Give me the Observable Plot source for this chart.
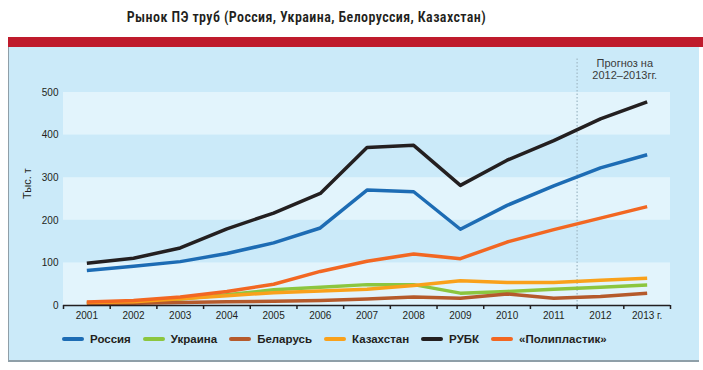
<!DOCTYPE html>
<html><head><meta charset="utf-8">
<script src="https://cdn.jsdelivr.net/npm/d3@7"></script>
<script src="https://cdn.jsdelivr.net/npm/@observablehq/plot@0.6"></script>
<style>
body{margin:0;background:#fff;}
#wrap{position:relative;width:703px;height:370px;overflow:hidden;font-family:"Liberation Sans",Arial,sans-serif;color:#231f20;}
#title{position:absolute;left:0;width:613px;top:9px;text-align:center;font-weight:600;font-size:14px;letter-spacing:0.4px;font-family:"Liberation Sans Narrow","Roboto Condensed","Liberation Sans",sans-serif;color:#231f20;white-space:nowrap;}
#bar{position:absolute;left:8px;top:37px;width:695px;height:10px;background:#bf1b2c;}
#panel{position:absolute;left:8px;top:47px;width:690px;height:313px;background:#cbeaf9;border-left:1px solid #8f9fa8;border-bottom:2px solid #8f9fa8;}
#chart{position:absolute;left:0;top:0;}
#legend{position:absolute;left:62px;top:332px;height:14px;display:flex;align-items:center;font-weight:bold;font-size:11.5px;white-space:nowrap;}
#legend .sw{display:inline-block;width:22px;height:4px;border-radius:2px;margin-right:6px;}
#legend .it{display:flex;align-items:center;margin-right:12px;}
</style>
</head><body>
<div id="wrap">
  <div id="title"></div>
  <div id="bar"></div>
  <div id="panel"></div>
  <div id="chart"></div>
  <div id="legend"></div>
</div>
<script>
const titleText = "Рынок ПЭ труб (Россия, Украина, Белоруссия, Казахстан)";
const yLabel = "Тыс. т";
const forecastLabel = "Прогноз на\n2012–2013гг.";
const years = [2001, 2002, 2003, 2004, 2005, 2006, 2007, 2008, 2009, 2010, 2011, 2012, 2013];
const yearLabels = ["2001", "2002", "2003", "2004", "2005", "2006", "2007", "2008", "2009", "2010", "2011", "2012", "2013 г."];
const yTicks = [0, 100, 200, 300, 400, 500];
const bandRanges = [[0, 100], [200, 300], [400, 500]];
const forecastStart = 2011.5;

const seriesNames = ["Россия", "Украина", "Беларусь", "Казахстан", "РУБК", "«Полипластик»"];
const seriesColors = ["#1d6cb4", "#8cc63f", "#b55a2c", "#f9a11b", "#231f20", "#f26722"];

const russia  = [82, 92, 103, 122, 147, 182, 271, 267, 179, 235, 281, 323, 354];
const ukraine = [6, 9, 15, 25, 37, 43, 49, 49, 29, 33, 38, 43, 48];
const belarus = [4, 5, 7, 9, 10, 12, 15, 20, 17, 27, 17, 21, 29];
const kazakh  = [7, 9, 16, 23, 30, 34, 38, 47, 58, 54, 54, 59, 64];
const rubk    = [99, 111, 135, 180, 217, 263, 371, 376, 282, 341, 387, 438, 478];
const poly    = [8, 12, 20, 33, 50, 80, 104, 121, 110, 149, 178, 205, 232];

const seriesValues = [russia, ukraine, belarus, kazakh, rubk, poly];
const rows = [];
seriesNames.forEach((name, i) => {
  years.forEach((yr, j) => rows.push({series: name, year: yr, value: seriesValues[i][j]}));
});

const xMin = years[0] - 0.5, xMax = years[years.length - 1] + 0.5;
const boundaries = d3.range(xMin, xMax + 0.01, 1);

document.getElementById("title").textContent = titleText;

const chart = Plot.plot({
  width: 703,
  height: 370,
  marginTop: 92,
  marginBottom: 65,
  marginLeft: 63,
  marginRight: 33,
  style: {background: "transparent", fontFamily: "'Liberation Sans', Arial, sans-serif", fontSize: "10px", color: "#231f20"},
  x: {domain: [xMin, xMax], axis: null},
  y: {domain: [0, 500], axis: null},
  color: {domain: seriesNames, range: seriesColors},
  marks: [
    Plot.rect(bandRanges, {x1: () => xMin, x2: () => xMax, y1: d => d[0], y2: d => d[1], fill: "#e2f4fc"}),
    Plot.ruleX([forecastStart], {y1: 0, y2: 583, stroke: "#a9c2cf", strokeWidth: 1.5, strokeDasharray: "1.5,2"}),
    Plot.text([forecastLabel], {x: () => 2012.52, y: () => 555, text: d => d, fontSize: 11, lineHeight: 1.06, fill: "#3a3a3a"}),
    Plot.line(rows, {x: "year", y: "value", z: "series", stroke: "series", strokeWidth: 3.5, strokeLinejoin: "round", strokeLinecap: "butt"}),
    Plot.ruleY([0], {x1: () => xMin, x2: () => xMax, stroke: "#231f20", strokeWidth: 1.5}),
    Plot.axisX({ticks: boundaries, tickSize: 4, tickFormat: () => "", stroke: "#231f20", strokeWidth: 1.5, label: null}),
    Plot.axisX({ticks: years, tickSize: 0, tickPadding: 6, tickFormat: (d) => yearLabels[years.indexOf(d)], fill: "#231f20", label: null}),
    Plot.axisY({ticks: yTicks, tickSize: 0, tickPadding: 5, fill: "#231f20", label: null}),
    Plot.text([yLabel], {frameAnchor: "left", dx: -36, rotate: -90, fontSize: 11, fill: "#231f20", text: d => d})
  ]
});
document.getElementById("chart").appendChild(chart);

const legend = document.getElementById("legend");
seriesNames.forEach((name, i) => {
  const it = document.createElement("span");
  it.className = "it";
  const sw = document.createElement("span");
  sw.className = "sw";
  sw.style.background = seriesColors[i];
  const tx = document.createElement("span");
  tx.textContent = name;
  it.appendChild(sw); it.appendChild(tx);
  legend.appendChild(it);
});
</script>
</body></html>
